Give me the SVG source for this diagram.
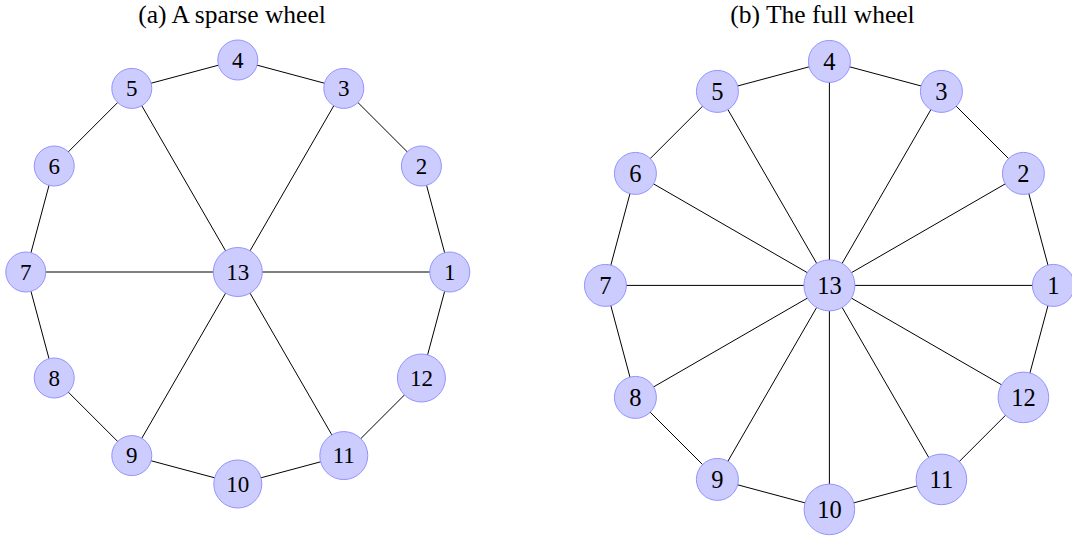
<svg xmlns="http://www.w3.org/2000/svg" width="1072" height="537" viewBox="0 0 1072 537">
<style>
.e{stroke:#000;stroke-width:1;fill:none}
.n{fill:#ccccff;stroke:#9393ff;stroke-width:1}
.t{font-family:"Liberation Serif","Times New Roman",serif;fill:#000;text-anchor:middle}
.la{font-size:23px}
.lb{font-size:24.5px}
.title{font-family:"Liberation Serif","Times New Roman",serif;font-size:25.5px;fill:#000;text-anchor:middle}
</style>
<rect width="1072" height="537" fill="#fff"/>
<text class="title" x="232" y="22.8">(a) A sparse wheel</text>
<text class="title" x="822.5" y="22.8">(b) The full wheel</text>
<g id="edges-a" class="e">
<polyline points="449.8,272 421.4,166 343.8,88.4 237.8,60 131.8,88.4 54.2,166 25.8,272 54.2,378 131.8,455.6 237.8,484 343.8,455.6 421.4,378 449.8,272"/>
<line x1="237.8" y1="272" x2="449.8" y2="272"/>
<line x1="237.8" y1="272" x2="343.8" y2="88.4"/>
<line x1="237.8" y1="272" x2="131.8" y2="88.4"/>
<line x1="237.8" y1="272" x2="25.8" y2="272"/>
<line x1="237.8" y1="272" x2="131.8" y2="455.6"/>
<line x1="237.8" y1="272" x2="343.8" y2="455.6"/>
</g>
<g id="edges-b" class="e">
<polyline points="1053.4,285.4 1023.4,173.4 941.4,91.4 829.4,61.4 717.4,91.4 635.4,173.4 605.4,285.4 635.4,397.4 717.4,479.4 829.4,509.4 941.4,479.4 1023.4,397.4 1053.4,285.4"/>
<line x1="829.4" y1="285.4" x2="1053.4" y2="285.4"/>
<line x1="829.4" y1="285.4" x2="1023.4" y2="173.4"/>
<line x1="829.4" y1="285.4" x2="941.4" y2="91.4"/>
<line x1="829.4" y1="285.4" x2="829.4" y2="61.4"/>
<line x1="829.4" y1="285.4" x2="717.4" y2="91.4"/>
<line x1="829.4" y1="285.4" x2="635.4" y2="173.4"/>
<line x1="829.4" y1="285.4" x2="605.4" y2="285.4"/>
<line x1="829.4" y1="285.4" x2="635.4" y2="397.4"/>
<line x1="829.4" y1="285.4" x2="717.4" y2="479.4"/>
<line x1="829.4" y1="285.4" x2="829.4" y2="509.4"/>
<line x1="829.4" y1="285.4" x2="941.4" y2="479.4"/>
<line x1="829.4" y1="285.4" x2="1023.4" y2="397.4"/>
</g>
<g id="a1"><circle class="n" cx="449.8" cy="272" r="20"/><text class="t la" x="449.8" y="279.8">1</text></g>
<g id="a2"><circle class="n" cx="421.4" cy="166" r="20"/><text class="t la" x="421.4" y="173.8">2</text></g>
<g id="a3"><circle class="n" cx="343.8" cy="88.4" r="20"/><text class="t la" x="343.8" y="96.2">3</text></g>
<g id="a4"><circle class="n" cx="237.8" cy="60" r="20"/><text class="t la" x="237.8" y="67.8">4</text></g>
<g id="a5"><circle class="n" cx="131.8" cy="88.4" r="20"/><text class="t la" x="131.8" y="96.2">5</text></g>
<g id="a6"><circle class="n" cx="54.2" cy="166" r="20"/><text class="t la" x="54.2" y="173.8">6</text></g>
<g id="a7"><circle class="n" cx="25.8" cy="272" r="20"/><text class="t la" x="25.8" y="279.8">7</text></g>
<g id="a8"><circle class="n" cx="54.2" cy="378" r="20"/><text class="t la" x="54.2" y="385.8">8</text></g>
<g id="a9"><circle class="n" cx="131.8" cy="455.6" r="20"/><text class="t la" x="131.8" y="463.4">9</text></g>
<g id="a10"><circle class="n" cx="237.8" cy="484" r="24"/><text class="t la" x="237.8" y="491.8">10</text></g>
<g id="a11"><circle class="n" cx="343.8" cy="455.6" r="24"/><text class="t la" x="343.8" y="463.4">11</text></g>
<g id="a12"><circle class="n" cx="421.4" cy="378" r="24"/><text class="t la" x="421.4" y="385.8">12</text></g>
<g id="a13"><circle class="n" cx="237.8" cy="272" r="24.5"/><text class="t la" x="237.8" y="279.8">13</text></g>
<g id="b1"><circle class="n" cx="1053.4" cy="285.4" r="21"/><text class="t lb" x="1053.4" y="293.7">1</text></g>
<g id="b2"><circle class="n" cx="1023.4" cy="173.4" r="21"/><text class="t lb" x="1023.4" y="181.7">2</text></g>
<g id="b3"><circle class="n" cx="941.4" cy="91.4" r="21"/><text class="t lb" x="941.4" y="99.7">3</text></g>
<g id="b4"><circle class="n" cx="829.4" cy="61.4" r="21"/><text class="t lb" x="829.4" y="69.7">4</text></g>
<g id="b5"><circle class="n" cx="717.4" cy="91.4" r="21"/><text class="t lb" x="717.4" y="99.7">5</text></g>
<g id="b6"><circle class="n" cx="635.4" cy="173.4" r="21"/><text class="t lb" x="635.4" y="181.7">6</text></g>
<g id="b7"><circle class="n" cx="605.4" cy="285.4" r="21"/><text class="t lb" x="605.4" y="293.7">7</text></g>
<g id="b8"><circle class="n" cx="635.4" cy="397.4" r="21"/><text class="t lb" x="635.4" y="405.7">8</text></g>
<g id="b9"><circle class="n" cx="717.4" cy="479.4" r="21"/><text class="t lb" x="717.4" y="487.7">9</text></g>
<g id="b10"><circle class="n" cx="829.4" cy="509.4" r="25.3"/><text class="t lb" x="829.4" y="517.7">10</text></g>
<g id="b11"><circle class="n" cx="941.4" cy="479.4" r="25.3"/><text class="t lb" x="941.4" y="487.7">11</text></g>
<g id="b12"><circle class="n" cx="1023.4" cy="397.4" r="25.3"/><text class="t lb" x="1023.4" y="405.7">12</text></g>
<g id="b13"><circle class="n" cx="829.4" cy="285.4" r="25.5"/><text class="t lb" x="829.4" y="293.7">13</text></g>
</svg>
